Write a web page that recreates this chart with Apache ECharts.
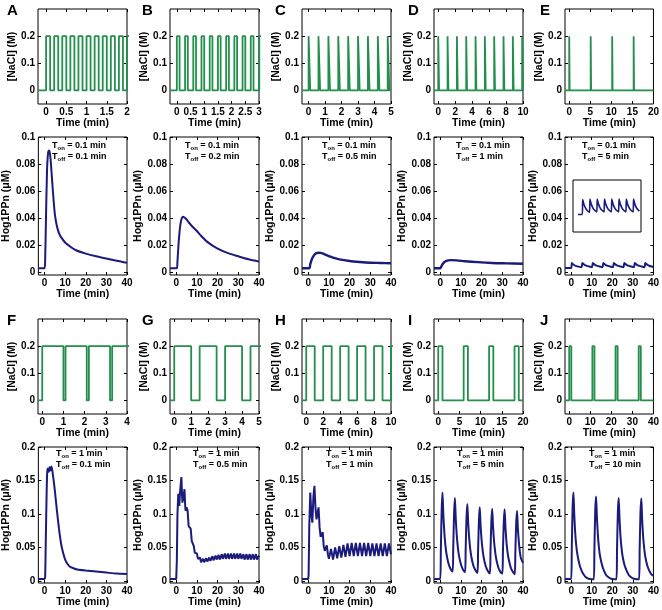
<!DOCTYPE html>
<html lang="en">
<head>
<meta charset="UTF-8">
<title>Hog1PPn response to NaCl pulses</title>
<script src="https://cdn.jsdelivr.net/npm/echarts@6.0.0/dist/echarts.min.js"></script>
<style>
  html, body { margin: 0; background: #fff; }
  #chart { width: 662px; height: 610px; }
</style>
</head>
<body>
<div id="chart"></div>
<script>
  // ---- data ----
  var letters = ['A', 'B', 'C', 'D', 'E', 'F', 'G', 'H', 'I', 'J'];
  var onText = ['0.1', '0.1', '0.1', '0.1', '0.1', '1', '1', '1', '1', '1'];
  var offText = ['0.1', '0.2', '0.5', '1', '5', '0.1', '0.5', '1', '5', '10'];
  var tOn = [0.1, 0.1, 0.1, 0.1, 0.1, 1, 1, 1, 1, 1];

  // pulse start times (min)
  var pulseA = [0, 0.2, 0.4, 0.6, 0.8, 1, 1.2, 1.4, 1.6, 1.8, 2];
  var pulseB = [0, 0.3, 0.6, 0.9, 1.2, 1.5, 1.8, 2.1, 2.4, 2.7, 3];
  var pulseC = [0, 0.6, 1.2, 1.8, 2.4, 3, 3.6, 4.2, 4.8];
  var pulseD = [0, 1.1, 2.2, 3.3, 4.4, 5.5, 6.6, 7.7, 8.8, 9.9];
  var pulseE = [0, 5.1, 10.2, 15.3];
  var pulseF = [0, 1.1, 2.2, 3.3];
  var pulseG = [0, 1.5, 3, 4.5];
  var pulseH = [0, 2, 4, 6, 8, 10];
  var pulseI = [0, 6, 12, 18];
  var pulseJ = [0, 11, 22, 33];

  var naclMin = [-0.2, -0.25, -0.4, -0.5, -1, -0.2, -0.25, -0.5, -1, -2];
  var naclMax = [2, 3, 5, 10, 20, 4, 5, 10, 20, 40];
  var naclTicks = [
    [0, 0.5, 1, 1.5, 2], [0, 0.5, 1, 1.5, 2, 2.5, 3], [0, 1, 2, 3, 4, 5], [0, 2, 4, 6, 8, 10], [0, 5, 10, 15, 20],
    [0, 1, 2, 3, 4], [0, 1, 2, 3, 4, 5], [0, 2, 4, 6, 8, 10], [0, 5, 10, 15, 20], [0, 10, 20, 30, 40]
  ];
  var naclYTicks = [0, 0.1, 0.2];
  var timeTicks = [0, 10, 20, 30, 40];
  var hogTicksTop = [0, 0.02, 0.04, 0.06, 0.08, 0.1];
  var hogTicksBottom = [0, 0.05, 0.1, 0.15, 0.2];

  // Hog1PPn (uM) vs time (min)
  var hogA = [[-3, 0.003], [0, 0.003], [0.3, 0.01], [0.7, 0.04], [1.2, 0.075], [1.7, 0.088], [2.2, 0.09], [2.7, 0.087], [3.3, 0.076], [4, 0.061], [5, 0.043], [6, 0.034], [7, 0.029], [8, 0.026], [10, 0.022], [12, 0.0195], [15, 0.0165], [20, 0.0138], [25, 0.0118], [30, 0.0102], [35, 0.0085], [40, 0.007]];
  var hogB = [[-3, 0.003], [0.3, 0.003], [0.6, 0.008], [1, 0.018], [1.5, 0.028], [2, 0.035], [2.5, 0.039], [3.2, 0.041], [4, 0.0405], [5, 0.039], [6, 0.037], [8, 0.0335], [10, 0.0305], [12, 0.027], [15, 0.0225], [20, 0.0175], [25, 0.0142], [30, 0.0118], [35, 0.0096], [40, 0.0079]];
  var hogC = [[-3, 0.003], [0.5, 0.003], [1, 0.006], [2, 0.0105], [3, 0.013], [4, 0.0142], [5, 0.0145], [6, 0.0143], [8, 0.0133], [10, 0.012], [12, 0.0108], [15, 0.0095], [20, 0.0083], [25, 0.0076], [30, 0.0071], [35, 0.0069], [40, 0.0067]];
  var hogD = [[-3, 0.003], [0, 0.003], [0.5, 0.0042], [1.5, 0.0068], [3, 0.0084], [5, 0.009], [8, 0.0088], [12, 0.0082], [18, 0.0075], [25, 0.0069], [32, 0.0066], [40, 0.0063]];
  var hogE = [[-3, 0.0032], [0, 0.0032], [0.3, 0.0068], [1.2, 0.0056], [2.5, 0.0046], [4, 0.004], [5.1, 0.0037], [5.4, 0.0069], [6.3, 0.0057], [7.6, 0.0047], [9.1, 0.0041], [10.2, 0.0038], [10.5, 0.0069], [11.4, 0.0057], [12.7, 0.0047], [14.2, 0.0041], [15.3, 0.0038], [15.6, 0.0069], [16.5, 0.0057], [17.8, 0.0047], [19.3, 0.0041], [20.4, 0.0038], [20.7, 0.0069], [21.6, 0.0057], [22.9, 0.0047], [24.4, 0.0041], [25.5, 0.0038], [25.8, 0.0069], [26.7, 0.0057], [28, 0.0047], [29.5, 0.0041], [30.6, 0.0038], [30.9, 0.0069], [31.8, 0.0057], [33.1, 0.0047], [34.6, 0.0041], [35.7, 0.0038], [36, 0.0069], [36.9, 0.0057], [38.2, 0.0047], [40, 0.004]];
  var hogF = [[-3, 0.003], [0, 0.003], [0.3, 0.006], [0.6, 0.06], [1, 0.13], [1.3, 0.163], [1.7, 0.168], [2.1, 0.163], [2.5, 0.17], [3, 0.165], [3.4, 0.171], [4, 0.16], [5, 0.135], [6, 0.105], [7, 0.078], [8, 0.056], [9, 0.042], [10, 0.032], [11, 0.026], [12, 0.022], [14, 0.019], [16, 0.017], [20, 0.0155], [25, 0.014], [30, 0.0125], [35, 0.011], [40, 0.0105]];
  var hogG = [[-3, 0.003], [0, 0.003], [0.3, 0.03], [0.6, 0.1], [1, 0.13], [1.3, 0.12], [1.5, 0.112], [1.8, 0.13], [2.2, 0.145], [2.5, 0.155], [2.8, 0.13], [3, 0.117], [3.3, 0.122], [3.7, 0.13], [4, 0.137], [4.3, 0.115], [4.5, 0.105], [5, 0.11], [5.5, 0.105], [6, 0.082], [6.5, 0.083], [7, 0.078], [7.5, 0.06], [8, 0.058], [8.5, 0.052], [9, 0.042], [9.5, 0.043], [10, 0.041], [10.5, 0.033], [11, 0.034], [11.5, 0.035], [12, 0.028], [13, 0.033], [13.5, 0.028], [14.5, 0.034], [15, 0.029], [16, 0.035], [16.5, 0.03], [17.5, 0.037], [18, 0.031], [19, 0.038], [19.5, 0.032], [20.5, 0.039], [21, 0.032], [22, 0.04], [22.5, 0.033], [23.5, 0.041], [24, 0.033], [25, 0.041], [25.5, 0.033], [26.5, 0.041], [27, 0.033], [28, 0.041], [28.5, 0.033], [29.5, 0.041], [30, 0.033], [31, 0.041], [31.5, 0.033], [32.5, 0.04], [33, 0.032], [34, 0.04], [34.5, 0.032], [35.5, 0.04], [36, 0.032], [37, 0.04], [37.5, 0.032], [38.5, 0.04], [39, 0.032], [40, 0.038]];
  var hogH = [[-3, 0.003], [0, 0.003], [0.2, 0.01], [0.5, 0.08], [1, 0.132], [1.5, 0.1], [2, 0.087], [2.5, 0.125], [3, 0.142], [3.5, 0.11], [4, 0.092], [4.5, 0.1], [5, 0.11], [5.5, 0.08], [6, 0.066], [6.5, 0.07], [7, 0.073], [7.5, 0.052], [8, 0.045], [8.5, 0.05], [9, 0.053], [9.5, 0.04], [10, 0.033], [11, 0.048], [12, 0.032], [13, 0.05], [14, 0.034], [15, 0.052], [16, 0.035], [17, 0.054], [18, 0.036], [19, 0.056], [20, 0.037], [21, 0.057], [22, 0.037], [23, 0.057], [24, 0.037], [25, 0.057], [26, 0.037], [27, 0.057], [28, 0.037], [29, 0.057], [30, 0.037], [31, 0.056], [32, 0.037], [33, 0.056], [34, 0.037], [35, 0.056], [36, 0.037], [37, 0.056], [38, 0.037], [39, 0.056], [40, 0.04]];
  var hogI = [[-3, 0.003], [0, 0.003], [0.3, 0.045], [0.7, 0.105], [1.1, 0.132], [1.5, 0.1], [2, 0.072], [2.5, 0.054], [3, 0.041], [4, 0.026], [5, 0.018], [6, 0.014], [6.3, 0.05], [6.7, 0.1], [7.1, 0.124], [7.5, 0.094], [8, 0.068], [8.5, 0.051], [9, 0.039], [10, 0.025], [11, 0.017], [12, 0.013], [12.3, 0.047], [12.7, 0.094], [13.1, 0.115], [13.5, 0.088], [14, 0.064], [14.5, 0.048], [15, 0.037], [16, 0.023], [17, 0.016], [18, 0.012], [18.3, 0.045], [18.7, 0.09], [19.1, 0.11], [19.5, 0.084], [20, 0.061], [20.5, 0.046], [21, 0.035], [22, 0.022], [23, 0.015], [24, 0.011], [24.3, 0.044], [24.7, 0.088], [25.1, 0.108], [25.5, 0.083], [26, 0.06], [26.5, 0.045], [27, 0.034], [28, 0.021], [29, 0.014], [30, 0.011], [30.3, 0.043], [30.7, 0.087], [31.1, 0.107], [31.5, 0.082], [32, 0.059], [32.5, 0.044], [33, 0.034], [34, 0.021], [35, 0.014], [36, 0.01], [36.3, 0.042], [36.7, 0.085], [37.1, 0.105], [37.5, 0.08], [38, 0.058], [38.5, 0.043], [39, 0.034], [40, 0.027]];
  var hogJ = [[-3, 0.003], [0, 0.003], [0.3, 0.05], [0.7, 0.11], [1.1, 0.132], [1.5, 0.1], [2, 0.07], [2.5, 0.052], [3, 0.04], [4, 0.025], [5, 0.016], [6, 0.01], [7, 0.006], [8, 0.004], [9, 0.003], [11, 0.0025], [11.3, 0.048], [11.7, 0.105], [12.1, 0.126], [12.5, 0.096], [13, 0.068], [13.5, 0.05], [14, 0.038], [15, 0.024], [16, 0.015], [17, 0.009], [18, 0.006], [19, 0.004], [20, 0.003], [22, 0.0025], [22.3, 0.047], [22.7, 0.103], [23.1, 0.124], [23.5, 0.094], [24, 0.066], [24.5, 0.049], [25, 0.037], [26, 0.023], [27, 0.015], [28, 0.009], [29, 0.006], [30, 0.004], [31, 0.003], [33, 0.0025], [33.3, 0.047], [33.7, 0.102], [34.1, 0.123], [34.5, 0.093], [35, 0.066], [35.5, 0.049], [36, 0.037], [37, 0.023], [38, 0.015], [39, 0.01], [40, 0.008]];

  var pulses = [pulseA, pulseB, pulseC, pulseD, pulseE, pulseF, pulseG, pulseH, pulseI, pulseJ];
  var hogData = [hogA, hogB, hogC, hogD, hogE, hogF, hogG, hogH, hogI, hogJ];
  var hogSmooth = [0.3, 0.3, 0.3, 0.3, 0.2, 0.2, false, false, 0.25, 0.25];

  // ---- layout ----
  var FONT = "'Liberation Sans', Arial, sans-serif";
  var GREEN = '#22904a';
  var NAVY = '#1b1b7c';
  var colLeft = [38, 170, 302, 434, 565];
  var colW = 89;
  var naclTop = [9, 319], naclH = 95;
  var hogTop = [137, 447], hogH = [138, 136];
  var letterX = [7, 142, 275, 408, 540], letterY = [3, 313];
  var annoDx = [14, 15, 20, 22, 17, 18, 23, 24, 23, 24];
  var annoY = [141, 449];

  var grid = [], xAxis = [], yAxis = [], series = [], graphic = [];

  function stepLine(starts, on, xmin, xmax) {
    var pts = [[xmin, 0]];
    starts.forEach(function (s) {
      pts.push([s, 0], [s, 0.2], [s + on, 0.2], [s + on, 0]);
    });
    if (pts[pts.length - 1][0] < xmax) pts.push([xmax, 0]);
    return pts;
  }

  function xAx(gi, min, max, ticks, main, gap) {
    return {
      gridIndex: gi, type: 'value', min: min, max: max, position: main ? 'bottom' : 'top',
      axisLine: { show: false, onZero: false },
      axisTick: { show: true, inside: true, length: 3, customValues: ticks, lineStyle: { color: '#000' } },
      axisLabel: { show: main, customValues: ticks, color: '#000', fontSize: 10, fontWeight: 'bold', fontFamily: FONT, margin: 3 },
      splitLine: { show: false },
      name: main ? 'Time (min)' : '', nameLocation: 'middle', nameGap: gap,
      nameTextStyle: { color: '#000', fontSize: 10.5, fontWeight: 'bold', fontFamily: FONT }
    };
  }

  function yAx(gi, min, max, ticks, main, name, gap) {
    return {
      gridIndex: gi, type: 'value', min: min, max: max, position: main ? 'left' : 'right',
      axisLine: { show: false, onZero: false },
      axisTick: { show: true, inside: true, length: 3, customValues: ticks, lineStyle: { color: '#000' } },
      axisLabel: { show: main, customValues: ticks, color: '#000', fontSize: 10, fontWeight: 'bold', fontFamily: FONT, margin: 3 },
      splitLine: { show: false },
      name: main ? name : '', nameLocation: 'middle', nameGap: gap,
      nameTextStyle: { color: '#000', fontSize: 10.5, fontWeight: 'bold', fontFamily: FONT }
    };
  }

  function panel(left, top, w, h, xr, xt, yr, yt, yName, yGap, xGap, data, color, lw, smooth) {
    var gi = grid.length;
    grid.push({ left: left, top: top, width: w, height: h, show: true, borderColor: '#000', borderWidth: 1, backgroundColor: '#fff' });
    var xi = xAxis.length, yi = yAxis.length;
    xAxis.push(xAx(gi, xr[0], xr[1], xt, true, xGap), xAx(gi, xr[0], xr[1], xt, false, 0));
    yAxis.push(yAx(gi, yr[0], yr[1], yt, true, yName, yGap), yAx(gi, yr[0], yr[1], yt, false, '', 0));
    series.push({
      type: 'line', xAxisIndex: xi, yAxisIndex: yi, data: data, showSymbol: false, symbol: 'none',
      smooth: smooth, lineStyle: { color: color, width: lw }, silent: true
    });
  }

  for (var i = 0; i < 10; i++) {
    var row = i < 5 ? 0 : 1, col = i % 5;
    var left = colLeft[col];
    // NaCl input
    panel(left, naclTop[row], colW, naclH, [naclMin[i], naclMax[i]], naclTicks[i], [-0.05, 0.3], naclYTicks,
      '[NaCl] (M)', 19, 14, stepLine(pulses[i], tOn[i], naclMin[i], naclMax[i]), GREEN, 1.8, false);
    // Hog1PPn response
    panel(left, hogTop[row], colW, hogH[row], [-3, 40], timeTicks,
      row === 0 ? [-0.002, 0.1] : [-0.003, 0.2], row === 0 ? hogTicksTop : hogTicksBottom,
      'Hog1PPn (\u03bcM)', 23, 14, hogData[i], NAVY, (i === 2 || i === 3) ? 2.4 : 2, hogSmooth[i]);

    graphic.push({
      type: 'text', left: letterX[col], top: letterY[row], silent: true,
      style: { text: letters[i], fontSize: 15, fontWeight: 'bold', fontFamily: FONT, fill: '#000' }
    });
    graphic.push({
      type: 'text', left: left + annoDx[i], top: annoY[row], silent: true,
      style: {
        text: '{t|T}{s|on}{t| = ' + onText[i] + ' min}\n{t|T}{s|off}{t| = ' + offText[i] + ' min}',
        fill: '#000',
        rich: {
          t: { fontSize: 9, fontWeight: 'bold', fontFamily: FONT, lineHeight: 11, fill: '#000' },
          s: { fontSize: 6, fontWeight: 'bold', fontFamily: FONT, lineHeight: 5, verticalAlign: 'bottom', fill: '#000' }
        }
      }
    });
  }

  // inset in panel E: same response, zoomed in
  var gi = grid.length;
  grid.push({ left: 573, top: 180, width: 68, height: 52, show: true, borderColor: '#000', borderWidth: 1, backgroundColor: '#fff', z: 5 });
  xAxis.push({ gridIndex: gi, type: 'value', min: -6.5, max: 41.2, show: false, splitLine: { show: false } });
  yAxis.push({ gridIndex: gi, type: 'value', min: -0.001, max: 0.0115, show: false, splitLine: { show: false } });
  series.push({
    type: 'line', xAxisIndex: xAxis.length - 1, yAxisIndex: yAxis.length - 1, data: hogE,
    showSymbol: false, symbol: 'none', smooth: 0.2, lineStyle: { color: NAVY, width: 1.6 }, silent: true, z: 6
  });

  var chart = echarts.init(document.getElementById('chart'), null, { renderer: 'canvas' });
  chart.setOption({
    animation: false,
    backgroundColor: '#fff',
    grid: grid,
    xAxis: xAxis,
    yAxis: yAxis,
    series: series,
    graphic: graphic
  });
</script>
</body>
</html>
